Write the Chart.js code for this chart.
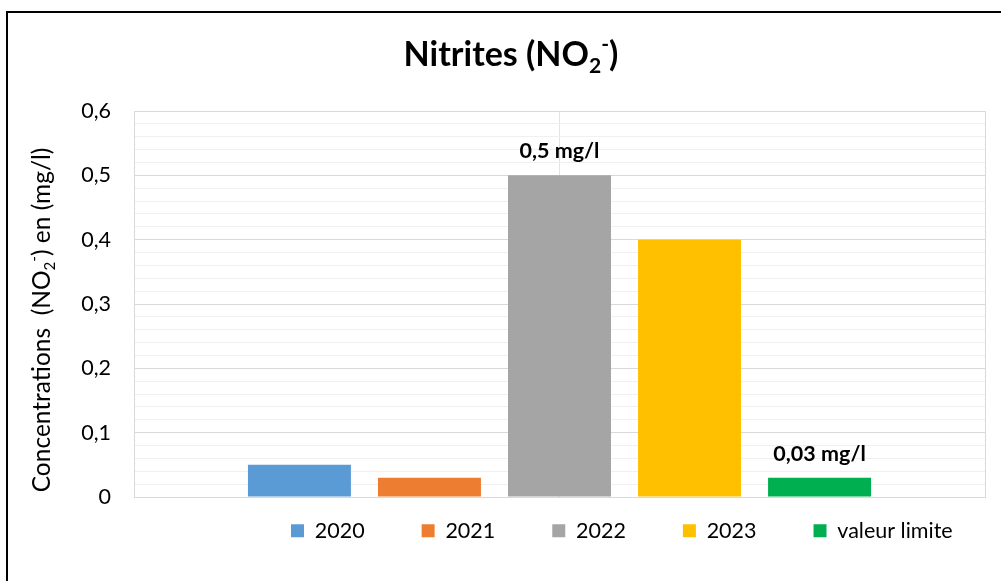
<!DOCTYPE html>
<html>
<head>
<meta charset="utf-8">
<script src="https://cdn.jsdelivr.net/npm/chart.js@4.4.1/dist/chart.umd.min.js"></script>
<style>
  html, body { margin: 0; padding: 0; background: #fff; overflow: hidden; }
  #wrap { position: relative; width: 1001px; height: 581px; }
  #frame { position: absolute; left: 6px; top: 11px; width: 1100px; height: 700px; border: 2px solid #000; box-sizing: border-box; }
  #nitritesChart { position: absolute; left: 0; top: 0; }
</style>
</head>
<body>
<div id="wrap">
  <div id="frame"></div>
  <canvas id="nitritesChart" width="1001" height="581"></canvas>
</div>
<script>
  // data
  const categories = ['']
  const seriesNames = ['2020', '2021', '2022', '2023', 'valeur limite']
  const seriesValues = [0.05, 0.03, 0.5, 0.4, 0.03]
  const seriesColors = ['#5B9BD5', '#ED7D31', '#A5A5A5', '#FFC000', '#00B050']
  const labelled = [false, false, true, false, true]
  const yTickLabels = ['0', '0,1', '0,2', '0,3', '0,4', '0,5', '0,6']

  const FONT = 'Lato, "Open Sans", sans-serif'

  // draws text with a subscript / superscript part, centred on x
  function drawRich (ctx, parts, x, y, size, weight) {
    let total = 0
    parts.forEach((p) => {
      const s = p.sub || p.sup ? size * 0.62 : size
      ctx.font = weight + ' ' + s + 'px ' + FONT
      p.w = ctx.measureText(p.t).width
      total += p.w
    })
    let cx = x - total / 2
    parts.forEach((p) => {
      const s = p.sub || p.sup ? size * 0.62 : size
      ctx.font = weight + ' ' + s + 'px ' + FONT
      let dy = 0
      if (p.sub) dy = size * 0.22
      if (p.sup) dy = -size * 0.45
      ctx.fillText(p.t, cx, y + dy)
      cx += p.w
    })
  }

  const titles = {
    id: 'titles',
    afterDraw (chart) {
      const ctx = chart.ctx
      ctx.save()
      ctx.fillStyle = '#000'
      ctx.textAlign = 'left'
      ctx.textBaseline = 'alphabetic'
      drawRich(ctx, [{t: 'Nitrites (NO'}, {t: '2', sub: true}, {t: '-', sup: true}, {t: ')'}], 511, 66, 34, 'bold')
      ctx.translate(50, 320)
      ctx.rotate(-Math.PI / 2)
      drawRich(ctx, [{t: 'Concentrations  (NO'}, {t: '2', sub: true}, {t: '-', sup: true}, {t: ') en (mg/l)'}], 0, 0, 24.5, 'normal')
      ctx.restore()
    }
  }

  const plotBorder = {
    id: 'plotBorder',
    beforeDatasetsDraw (chart) {
      const a = chart.chartArea
      const ctx = chart.ctx
      ctx.save()
      ctx.strokeStyle = '#d9d9d9'
      ctx.lineWidth = 1
      ctx.strokeRect(a.left + 0.5, a.top + 0.5, a.right - a.left, a.bottom - a.top)
      ctx.restore()
    }
  }

  const barLabels = {
    id: 'barLabels',
    afterDatasetsDraw (chart) {
      const ctx = chart.ctx
      ctx.save()
      ctx.font = 'bold 21.5px ' + FONT
      ctx.fillStyle = '#000'
      ctx.textAlign = 'center'
      ctx.textBaseline = 'middle'
      chart.data.datasets.forEach((ds, i) => {
        if (!labelled[i]) return
        const bar = chart.getDatasetMeta(i).data[0]
        const txt = String(ds.data[0]).replace('.', ',') + ' mg/l'
        ctx.fillText(txt, bar.x, bar.y - 24)
      })
      ctx.restore()
    }
  }

  // put the legend row where the original has it
  const legendPlace = {
    id: 'legendPlace',
    afterLayout (chart) {
      const lg = chart.legend
      const pad = lg.options.labels.padding
      lg.left = 291 - pad
      lg.right = lg.left + 1000
      lg.top = 520 - pad
      lg.bottom = lg.top + 200
    }
  }

  const ctx = document.getElementById('nitritesChart')
  const myChart = new Chart(ctx, {
    type: 'bar',
    data: {
      labels: categories,
      datasets: seriesNames.map((name, i) => ({
        label: name,
        data: [seriesValues[i]],
        backgroundColor: seriesColors[i],
        categoryPercentage: 0.764,
        barPercentage: 0.792
      }))
    },
    options: {
      responsive: false,
      animation: false,
      layout: { padding: { top: 111, left: 74, right: 16, bottom: 44 } },
      plugins: {
        title: { display: false },
        tooltip: { enabled: false },
        legend: {
          position: 'bottom',
          align: 'start',
          maxHeight: 40,
          labels: {
            boxWidth: 13,
            boxHeight: 13,
            padding: 57,
            color: '#000',
            font: { family: FONT, size: 21.5 }
          }
        }
      },
      scales: {
        x: {
          grid: { offset: false, color: '#e3e3e3', drawTicks: false },
          border: { display: true, color: '#d9d9d9' },
          ticks: { display: false },
          afterFit (scale) { scale.height = 0 }
        },
        y: {
          min: 0,
          max: 0.6,
          grid: {
            drawTicks: false,
            color: (c) => c.tick && Math.round(c.tick.value * 100) % 10 === 0 ? '#d9d9d9' : '#f0f0f0'
          },
          border: { display: true, color: '#d9d9d9' },
          ticks: {
            stepSize: 0.02,
            autoSkip: false,
            padding: 23,
            color: '#000',
            font: { family: FONT, size: 21.5 },
            callback: (v) => Math.round(v * 100) % 10 === 0 ? yTickLabels[Math.round(v * 10)] : ''
          },
          afterFit (scale) { scale.width = 60 }
        }
      }
    },
    plugins: [titles, plotBorder, barLabels, legendPlace]
  })
</script>
</body>
</html>
